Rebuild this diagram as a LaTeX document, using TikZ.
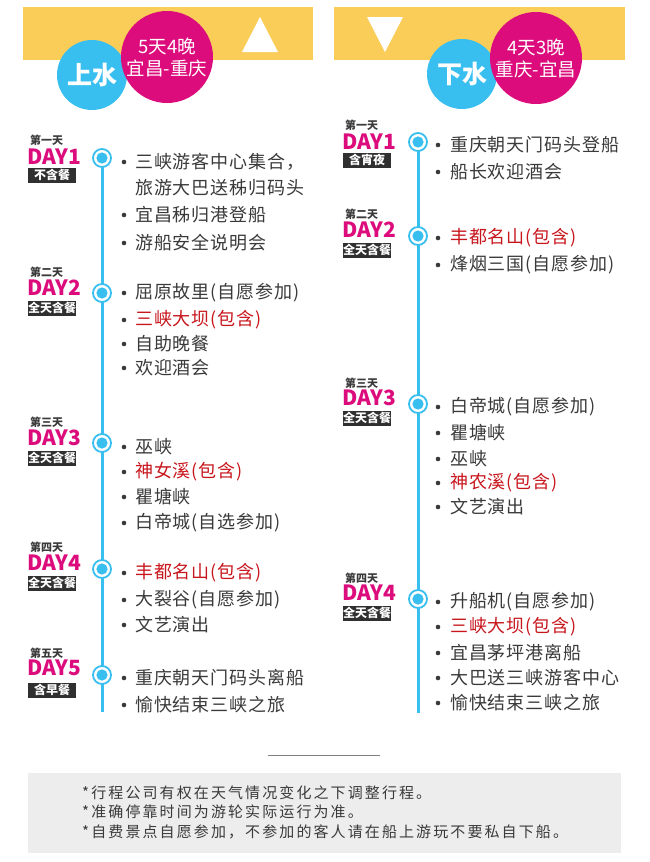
\documentclass[tikz,border=0pt]{standalone}
\usepackage{fontspec}
\setmainfont{Noto Sans CJK SC}
\newfontfamily\itemfont{Noto Sans CJK SC}[LetterSpace=5]
\newfontfamily\notefont{Noto Sans CJK SC}[LetterSpace=14]
\definecolor{banner}{RGB}{250,204,88}
\definecolor{tlblue}{RGB}{56,191,240}
\definecolor{mag}{RGB}{220,12,124}
\definecolor{hotred}{RGB}{200,22,29}
\definecolor{txt}{RGB}{58,58,58}
\definecolor{boxgray}{RGB}{48,48,48}
\definecolor{notebg}{RGB}{237,237,237}
\begin{document}
\begin{tikzpicture}[x=1pt,y=-1pt,
  item/.style={anchor=west,inner sep=0pt,font=\itemfont\fontsize{18}{18}\selectfont,text=txt},
  hot/.style={item,text=hotred},
  bul/.style={circle,fill=txt,inner sep=0pt,minimum size=4.6pt},
  marker/.style={circle,draw=tlblue,line width=1.8pt,fill=white,minimum size=18pt,inner sep=0pt,
    path picture={\fill[tlblue] (path picture bounding box.center) circle (5.6pt);}},
  tline/.style={draw=tlblue,line width=3pt},
  dayno/.style={anchor=west,inner sep=0pt,font=\bfseries\fontsize{11}{11}\selectfont,text=txt},
  dayname/.style={anchor=west,inner sep=0pt,font=\bfseries\fontsize{21}{21}\selectfont,text=mag},
  meal/.style={fill=boxgray,text=white,inner sep=0pt,minimum width=48pt,minimum height=15pt,font=\bfseries\fontsize{12}{12}\selectfont},
  bigdisc/.style={circle,fill=tlblue,text=white,inner sep=0pt,minimum size=70pt,font=\bfseries\fontsize{25}{25}\selectfont},
  magdisc/.style={circle,fill=mag,inner sep=0pt,minimum size=92pt},
  disctext/.style={text=white,inner sep=0pt,font=\fontsize{18.5}{18.5}\selectfont},
  note/.style={anchor=west,inner sep=0pt,font=\notefont\fontsize{15}{15}\selectfont,text=txt}
]
\useasboundingbox (0,0) rectangle (650,862);
\fill[white] (0,0) rectangle (650,862);

% ---------- headers ----------
\fill[banner] (23,7) rectangle (313,60);
\fill[banner] (334,7) rectangle (625,60);
\fill[white] (242,52) -- (278,52) -- (260,17) -- cycle;
\fill[white] (367,17) -- (403,17) -- (385,52) -- cycle;

\node[bigdisc] (upw) at (92,75) {上水};
\node[magdisc] (upm) at (167,57) {};
\node[disctext] (upm1) at (167,47) {5天4晚};
\node[disctext] (upm2) at (167,68) {宜昌-重庆};

\node[bigdisc] (dnw) at (462,74) {下水};
\node[magdisc] (dnm) at (536,58) {};
\node[disctext] (dnm1) at (536,48) {4天3晚};
\node[disctext] (dnm2) at (536,69) {重庆-宜昌};

% ---------- left timeline ----------
\coordinate (Ltop) at (102,158);
\coordinate (Lbot) at (102,712);
\draw[tline] (Ltop) -- (Lbot);
\foreach \n/\y in {1/158,2/293,3/443,4/569,5/675}
  \node[marker] (lm\n) at (102,\y) {};

\foreach \n/\a/\b/\c/\lab/\ml in {
  1/140/157/175/第一天/不含餐,
  2/272/288/308/第二天/全天含餐,
  3/422/438/458/第三天/全天含餐,
  4/547/563/583/第四天/全天含餐,
  5/653/668/690/第五天/含早餐}{
  \node[dayno] (ln\n) at (30,\a) {\lab};
  \node[dayname] (ld\n) at (27,\b) {DAY\n};
  \node[meal] (lb\n) at (52,\c) {\ml};
}

\foreach \n/\y/\t/\s in {
  1/162/三峡游客中心集合，/item,
  3/215/宜昌秭归港登船/item,
  4/243/游船安全说明会/item,
  5/293/屈原故里(自愿参加)/item,
  6/320/三峡大坝(包含)/hot,
  7/344/自助晚餐/item,
  8/368/欢迎酒会/item,
  9/447/巫峡/item,
  10/472/神女溪(包含)/hot,
  11/497/瞿塘峡/item,
  12/523/白帝城(自选参加)/item,
  13/573/丰都名山(包含)/hot,
  14/600/大裂谷(自愿参加)/item,
  15/625/文艺演出/item,
  16/678/重庆朝天门码头离船/item,
  17/705/愉快结束三峡之旅/item}{
  \node[bul] (lbul\n) at (124,\y) {};
  \node[\s] (lt\n) at (135,\y) {\t};
}
\node[item] (lt2) at (135,188) {旅游大巴送秭归码头};

% ---------- right timeline ----------
\coordinate (Rtop) at (418,142);
\coordinate (Rbot) at (418,713);
\draw[tline] (Rtop) -- (Rbot);
\foreach \n/\y in {1/142,2/236,3/404,4/599}
  \node[marker] (rm\n) at (418,\y) {};

\foreach \n/\a/\b/\c/\lab/\ml in {
  1/125/142/160/第一天/含宵夜,
  2/214/230/250/第二天/全天含餐,
  3/383/398/418/第三天/全天含餐,
  4/578/593/613/第四天/全天含餐}{
  \node[dayno] (rn\n) at (345,\a) {\lab};
  \node[dayname] (rd\n) at (342,\b) {DAY\n};
  \node[meal] (rb\n) at (367,\c) {\ml};
}

\foreach \n/\y/\t/\s in {
  1/145/重庆朝天门码头登船/item,
  2/172/船长欢迎酒会/item,
  3/238/丰都名山(包含)/hot,
  4/265/烽烟三国(自愿参加)/item,
  5/407/白帝城(自愿参加)/item,
  6/433/瞿塘峡/item,
  7/459/巫峡/item,
  8/483/神农溪(包含)/hot,
  9/507/文艺演出/item,
  10/602/升船机(自愿参加)/item,
  11/627/三峡大坝(包含)/hot,
  12/653/宜昌茅坪港离船/item,
  13/678/大巴送三峡游客中心/item,
  14/703/愉快结束三峡之旅/item}{
  \node[bul] (rbul\n) at (438,\y) {};
  \node[\s] (rt\n) at (450,\y) {\t};
}

% ---------- footer ----------
\coordinate (divL) at (268,755);
\coordinate (divR) at (380,755);
\draw[gray,line width=1pt] (divL) -- (divR);
\fill[notebg] (28,773) rectangle (621,853);
\node[note] (n1) at (82,793) {*行程公司有权在天气情况变化之下调整行程。};
\node[note] (n2) at (82,812) {*准确停靠时间为游轮实际运行为准。};
\node[note] (n3) at (82,832) {*自费景点自愿参加，不参加的客人请在船上游玩不要私自下船。};
\end{tikzpicture}
\end{document}
